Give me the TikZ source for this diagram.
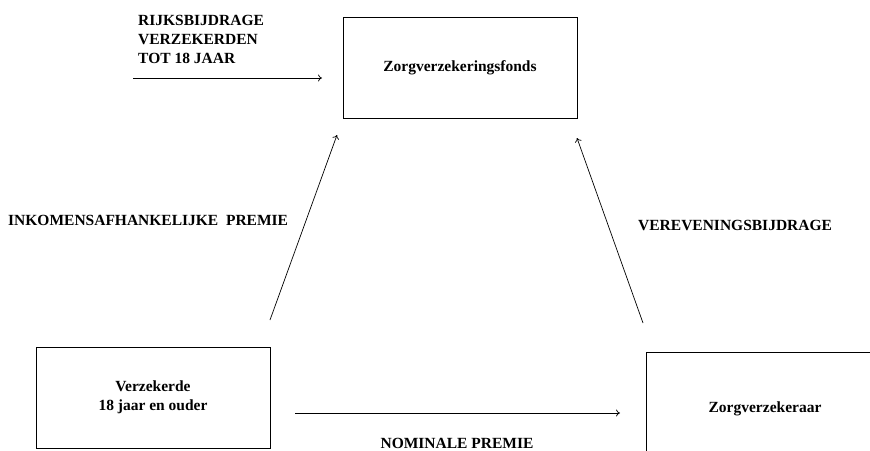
\documentclass[tikz,border=0pt]{standalone}
\usepackage{fontspec}
\setmainfont{Liberation Serif}
\usepackage{tikz}
\usetikzlibrary{arrows.meta}

\begin{document}
\begin{tikzpicture}[x=1pt,y=-1pt,
  box/.style={draw,line width=0.9pt,align=center,font=\bfseries\fontsize{15.5}{19}\selectfont},
  lbl/.style={inner sep=0pt,font=\bfseries\fontsize{15.5}{19}\selectfont},
  flow/.style={-{To[length=4pt,width=7pt]},line width=0.7pt}]
\useasboundingbox (0,0) rectangle (870,450);
\clip (0,0) rectangle (870,450);
            % Boxes
\node[box,minimum width=234,minimum height=101] (fonds) at (460,67.5) {Zorgverzekeringsfonds};
\node[box,minimum width=234,minimum height=101] (verz) at (153,397.5) {Verzekerde\\18 jaar en ouder};
\node[box,minimum width=238,minimum height=114] (zv) at (765,409) {Zorgverzekeraar};
%Labels
\node[lbl,align=left,anchor=north west] (rijks) at (138,15) {RIJKSBIJDRAGE\\VERZEKERDEN\\TOT 18 JAAR};
\node[lbl,anchor=west] (ink) at (8,220) {INKOMENSAFHANKELIJKE\ \ PREMIE};
\node[lbl,anchor=west] (vev) at (638,225) {VEREVENINGSBIJDRAGE};
\node[lbl] (nom) at (457,443) {NOMINALE PREMIE};
%Arrow ends
\coordinate (rs) at (133,78);
\coordinate (re) at (322,78);
\coordinate (ls) at (270,320);
\coordinate (le) at (337,135);
\coordinate (ns) at (295,413);
\coordinate (ne) at (620,413);
\coordinate (vs) at (643,323);
\coordinate (ve) at (577,138);
%Flows
\draw[flow] (rs) -- (re);
\draw[flow] (ls) -- (le);
\draw[flow] (ns) -- (ne);
\draw[flow] (vs) -- (ve);

          \end{tikzpicture}
\end{document}
